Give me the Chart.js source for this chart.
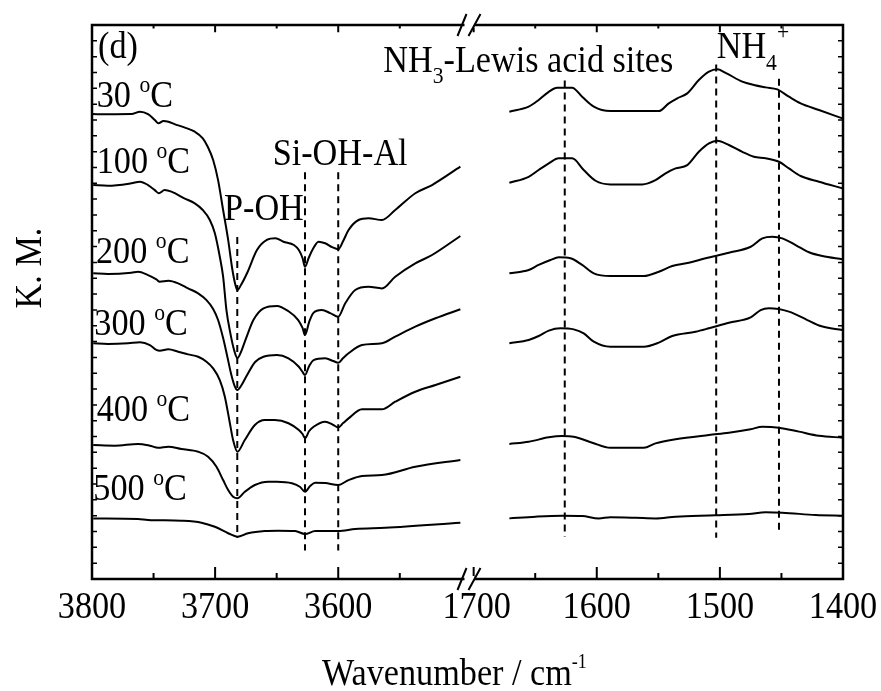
<!DOCTYPE html>
<html><head><meta charset="utf-8">
<script src="https://cdn.jsdelivr.net/npm/chart.js@4.4.1/dist/chart.umd.min.js"></script>
<style>html,body{margin:0;padding:0;background:#fff}#wrap{width:881px;height:691px}</style>
</head><body><div id="wrap"><canvas id="c" width="881" height="691"></canvas></div>
<script>
// ---- data (wavenumber / cm-1, K. M. arbitrary units) ----
const temps = ['30', '100', '200', '300', '400', '500'];

const wn30L = [3800,3787,3768,3761,3754.5,3749,3746,3742,3738,3733,3725,3716.5,3710,3706,3701.6,3697.6,3693.5,3689.4,3686.2,3683.7,3681.9,3679,3674,3666,3658,3651,3644.5,3636,3632,3629,3627,3624,3621,3616,3610.6,3605,3600,3596,3591.6,3583.5,3575.4,3564.5,3553.7,3537.4,3523.8,3500.8];
const km30L = [29.37,29.36,29.37,29.52,29.37,29.0,28.79,28.93,28.89,28.74,28.53,28.26,27.84,27.31,26.47,25.2,23.31,21.42,19.65,18.64,18.26,18.57,19.33,20.78,21.42,21.52,21.31,21.1,20.78,20.28,19.73,20.28,20.78,21.31,21.21,20.97,20.83,21.35,22.05,22.68,22.79,22.68,23.31,24.37,24.89,26.05];
const wn30R = [1671,1655.3,1647.2,1639,1632.2,1620,1611.9,1602.4,1588.9,1549.6,1541.5,1534.6,1526.5,1517.1,1508.9,1502.1,1495.4,1481.8,1472.4,1462.8,1453.3,1443.9,1434.4,1419.5,1400.5];
const km30R = [29.52,29.84,30.26,30.78,31.04,31.04,30.47,29.84,29.56,29.56,30.05,30.37,30.68,31.52,32.05,32.2,31.98,31.42,31.21,31.06,30.93,30.47,30.05,29.63,29.1];

const wn100L = [3799,3787,3768,3761,3754.5,3749,3745.8,3741,3735.5,3725,3716.5,3710,3704.3,3700.2,3696.2,3693.5,3690.8,3687.8,3684.6,3681.9,3679,3674.8,3668.9,3660.7,3649.8,3640.7,3632.5,3629,3627,3623.6,3620.3,3613.3,3606.5,3600,3594.3,3586.2,3575.4,3564.5,3553.7,3537.4,3523.8,3500.8];
const km100L = [24.89,24.85,25.0,25.1,24.89,24.57,24.37,24.57,24.47,24.05,23.73,23.31,22.68,21.84,20.36,19.1,16.99,15.6,14.47,13.96,14.34,15.22,16.36,17.1,17.25,16.93,16.36,15.86,15.41,16.24,16.8,16.99,16.8,16.57,17.42,18.26,18.46,18.36,19.1,19.94,20.47,21.67];
const wn100R = [1671,1655.3,1647.2,1639,1630.9,1620,1610.6,1601,1588.9,1563.1,1552.3,1544.1,1536,1526.5,1517.1,1508.9,1502.1,1492.7,1481.8,1472.4,1462.8,1452,1443.9,1434.4,1419.5,1400.5];
const km100R = [25.03,25.41,25.84,26.26,26.58,26.58,25.84,25.16,24.93,24.93,25.2,25.63,25.94,26.15,26.99,27.52,27.69,27.42,26.99,26.68,26.58,26.36,25.94,25.46,25.1,24.68];

const wn200L = [3799,3787,3768,3762.6,3754.5,3747.7,3745,3738,3730,3722,3713.8,3707,3701.6,3697.6,3693.5,3690.2,3687,3684.1,3681.9,3679,3674,3667.5,3660.7,3649.8,3640.4,3632,3629,3627,3623.6,3620,3610.6,3604,3600,3596,3591.6,3580.7,3564.5,3553.7,3537.4,3521,3500.8];
const km200L = [19.31,19.27,19.35,19.41,19.2,18.93,18.78,18.84,18.68,18.36,18.05,17.62,17.06,16.36,15.22,14.09,12.95,12.19,11.94,12.19,12.89,13.71,14.04,14.15,13.94,13.41,13.08,12.89,13.46,13.83,13.94,13.77,13.66,13.96,14.26,14.78,14.89,15.31,15.94,16.47,17.04];
const wn200R = [1671,1655.3,1647.2,1637.6,1630.9,1621.4,1611.9,1602.4,1588.9,1561.8,1549.6,1538.7,1525.2,1511.6,1492.7,1475,1465.5,1457.4,1449.3,1438.5,1427.6,1416.8,1400.5];
const km200R = [19.31,19.52,19.84,20.15,20.32,20.26,19.84,19.31,19.14,19.14,19.41,19.77,19.98,20.26,20.61,20.99,21.52,21.62,21.52,21.1,20.64,20.4,20.2];

const wn300L = [3799,3787,3770.7,3761,3753,3747.7,3745,3738,3730,3722,3713.8,3707,3701.6,3696.2,3692.1,3688,3685.4,3681.9,3675.9,3667.7,3659.6,3651.5,3640.4,3632,3629,3627,3623.6,3620,3610.6,3604,3600,3596,3591.6,3580.7,3564.5,3553.7,3537.4,3521,3500.8];
const km300L = [14.89,14.85,14.89,14.95,14.78,14.47,14.42,14.51,14.36,14.19,14.04,13.73,13.31,12.57,11.52,9.84,8.78,8.04,8.78,9.73,10.04,10.04,9.84,9.41,9.16,8.89,9.35,9.62,9.94,9.73,9.58,9.85,10.15,10.72,10.72,11.2,11.83,12.26,12.78];
const wn300R = [1671,1655.3,1647.2,1639,1629.5,1618.7,1610.6,1602.4,1588.9,1561.8,1549.6,1538.7,1519.8,1508.9,1492.7,1475,1466.9,1460.2,1443.9,1429,1418.1,1400.5];
const km300R = [14.89,15.1,15.35,15.69,15.84,15.77,15.52,14.99,14.67,14.67,14.93,15.35,15.62,15.84,16.19,16.53,16.99,17.1,16.89,16.36,15.98,15.73];

const wn400L = [3799,3781.5,3762.6,3753,3746.3,3738,3727.4,3713.8,3705.7,3698.9,3693.5,3689.4,3685.4,3681.9,3675.9,3667.7,3656.9,3649.8,3637.6,3630.9,3627,3622.8,3618.7,3610.6,3600,3591.6,3580.7,3564.5,3537.4,3500.8];
const km400L = [8.46,8.42,8.53,8.42,8.29,8.36,8.21,8.04,7.73,7.09,6.25,5.62,5.2,5.1,5.51,5.94,6.15,6.15,6.05,5.81,5.51,5.87,6.08,6.06,5.94,6.25,6.51,6.57,7.09,7.52];
const wn400R = [1671,1655.3,1639,1628.1,1618.7,1603.7,1588.9,1561.8,1552.3,1536,1508.9,1492.7,1475,1465.5,1452,1435.8,1419.5,1400.5];
const km400R = [8.53,8.67,8.95,9.03,8.99,8.61,8.29,8.29,8.57,8.83,9.1,9.24,9.46,9.62,9.56,9.31,9.05,8.93];

const wn500L = [3799,3762.6,3754.5,3727.4,3711.1,3700.2,3689.4,3681.9,3673.2,3659.6,3648.8,3635,3627,3618.7,3600,3586.2,3561.8,3500.8];
const km500L = [3.83,3.79,3.73,3.68,3.56,3.3,2.89,2.67,2.89,3.03,3.05,3.03,2.84,3.03,3.03,3.16,3.24,3.56];
const wn500R = [1671,1649.8,1628.1,1611.9,1598.4,1588.9,1568.5,1552.3,1536,1503.5,1476.4,1462.8,1449.3,1422.2,1400.5];
const km500R = [3.83,3.94,4.0,3.98,3.83,3.9,3.87,3.83,3.94,4.02,4.11,4.21,4.19,4.04,4.0];

// band markers (dashed lines)
const markerWn     = [3682, 3627, 3600, 1626, 1503, 1452];
const markerTop    = [21.6, 25.7, 25.7, 31.5, 32.5, 31.6];
const markerBottom = [2.6, 1.8, 1.8, 2.65, 2.6, 2.8];

// axis ticks
const xMajorTicks = [3800, 3700, 3600, 1700, 1600, 1500, 1400];
const xMinorTicks = [3750, 3650, 3550, 1650, 1550, 1450];
const yMin = 0, yMax = 35;

// broken axis: 3800..3490 then 1700..1400
const BREAK_W = 3490;
function toPos(w) { return w > 2500 ? 3800 - w : (3800 - BREAK_W) + (1700 - w); }

const leftSets  = [[wn30L,km30L],[wn100L,km100L],[wn200L,km200L],[wn300L,km300L],[wn400L,km400L],[wn500L,km500L]];
const rightSets = [[wn30R,km30R],[wn100R,km100R],[wn200R,km200R],[wn300R,km300R],[wn400R,km400R],[wn500R,km500R]];

const datasets = [];
temps.forEach((t, i) => {
  const pts = [];
  leftSets[i][0].forEach((w, j) => pts.push({x: toPos(w), y: leftSets[i][1][j]}));
  pts.push({x: toPos(BREAK_W + 5), y: null});
  rightSets[i][0].forEach((w, j) => pts.push({x: toPos(w), y: rightSets[i][1][j]}));
  datasets.push({label: t + ' °C', data: pts, borderColor: '#000', borderWidth: 2,
    pointRadius: 0, spanGaps: false, cubicInterpolationMode: 'monotone', fill: false});
});
markerWn.forEach((w, i) => {
  datasets.push({label: 'marker' + w, data: [{x: toPos(w), y: markerTop[i]}, {x: toPos(w), y: markerBottom[i]}],
    borderColor: '#000', borderWidth: 2, borderDash: [7, 5], pointRadius: 0, fill: false});
});

const FONT = '"Liberation Serif", "Times New Roman", serif';
function run(ctx, parts, x, y) {
  // parts: [text, size, dy]
  let cx = x;
  parts.forEach(p => {
    ctx.save();
    ctx.font = p[1] + 'px ' + FONT;
    ctx.textBaseline = 'alphabetic';
    ctx.textAlign = 'left';
    ctx.translate(cx, y + (p[2] || 0));
    ctx.scale(0.9, 1);
    ctx.fillText(p[0], 0, 0);
    cx += ctx.measureText(p[0]).width * 0.9;
    ctx.restore();
  });
  return cx - x;
}
function measure(ctx, parts) {
  let w = 0;
  parts.forEach(p => { ctx.save(); ctx.font = p[1] + 'px ' + FONT; w += ctx.measureText(p[0]).width * 0.9; ctx.restore(); });
  return w;
}

const deco = {
  id: 'deco',
  afterDraw(chart) {
    const ctx = chart.ctx, a = chart.chartArea, xs = chart.scales.x, ys = chart.scales.y;
    ctx.save();
    ctx.fillStyle = '#000'; ctx.strokeStyle = '#000';
    // frame
    ctx.lineWidth = 2.5;
    ctx.strokeRect(a.left, a.top, a.right - a.left, a.bottom - a.top);
    // x ticks (inward, bottom and top)
    ctx.lineWidth = 2;
    const xt = (w, len) => {
      const px = xs.getPixelForValue(toPos(w));
      ctx.beginPath();
      ctx.moveTo(px, a.bottom); ctx.lineTo(px, a.bottom - len);
      ctx.moveTo(px, a.top); ctx.lineTo(px, a.top + len * 0.6);
      ctx.stroke();
    };
    xMajorTicks.forEach(w => xt(w, 12));
    xMinorTicks.forEach(w => xt(w, 6));
    // y ticks (inward, left and right)
    ctx.lineWidth = 1.5;
    for (let v = yMin + 1; v < yMax; v++) {
      const py = ys.getPixelForValue(v);
      ctx.beginPath();
      ctx.moveTo(a.left, py); ctx.lineTo(a.left + 5, py);
      ctx.moveTo(a.right, py); ctx.lineTo(a.right - 5, py);
      ctx.stroke();
    }
    // axis break
    const bx = xs.getPixelForValue(toPos(BREAK_W + 5)) + 2;
    ctx.fillStyle = '#fff';
    ctx.fillRect(bx - 5, a.top - 3, 10, 6);
    ctx.fillRect(bx - 5, a.bottom - 3, 10, 6);
    ctx.fillStyle = '#000';
    ctx.lineWidth = 2;
    [[a.top, 0], [a.bottom, 0]].forEach(([yy]) => {
      ctx.beginPath();
      ctx.moveTo(bx - 12, yy + 11); ctx.lineTo(bx - 3, yy - 11);
      ctx.moveTo(bx - 1, yy + 11); ctx.lineTo(bx + 11, yy - 11);
      ctx.stroke();
    });
    // tick labels
    xMajorTicks.forEach(w => {
      const px = xs.getPixelForValue(toPos(w));
      const parts = [[String(w), 38, 0]];
      run(ctx, parts, px - measure(ctx, parts) / 2 + (w === 1700 ? 3 : 0), 618);
    });
    // axis titles
    const tParts = [['Wavenumber / cm', 38, 0], ['-1', 20, -17]];
    run(ctx, tParts, 322, 685);
    ctx.save();
    ctx.translate(41, 268);
    ctx.rotate(-Math.PI / 2);
    const kParts = [['K. M.', 38, 0]];
    run(ctx, kParts, -measure(ctx, kParts) / 2, 0);
    ctx.restore();
    // annotations
    run(ctx, [['(d)', 38, 0]], 98, 58);
    const tLab = [[96.7, 107], [96.7, 173], [96, 263], [94.3, 335], [96.7, 421], [93.3, 500]];
    temps.forEach((t, i) => {
      run(ctx, [[t + ' ', 38, 0], ['o', 24, -15], ['C', 38, 0]], tLab[i][0], tLab[i][1]);
    });
    run(ctx, [['P-OH', 38, 0]], 224, 220);
    run(ctx, [['Si-OH-Al', 38, 0]], 272.7, 165);
    run(ctx, [['NH', 38, 0], ['3', 24, 11], ['-Lewis acid sites', 38, 0]], 383.3, 71.7);
    run(ctx, [['NH', 38, 0], ['4', 24, 12]], 716.7, 58.3);
    run(ctx, [['+', 24, -19]], 777, 58.3);
    ctx.restore();
  }
};

new Chart(document.getElementById('c'), {
  type: 'line',
  data: {datasets},
  options: {
    responsive: false, animation: false, devicePixelRatio: 1,
    layout: {padding: {left: 92, right: 38, top: 25, bottom: 112}},
    scales: {
      x: {type: 'linear', min: 0, max: toPos(1400), display: false},
      y: {type: 'linear', min: yMin, max: yMax, display: false}
    },
    plugins: {legend: {display: false}, tooltip: {enabled: false}},
    elements: {line: {tension: 0}}
  },
  plugins: [deco]
});
</script></body></html>
